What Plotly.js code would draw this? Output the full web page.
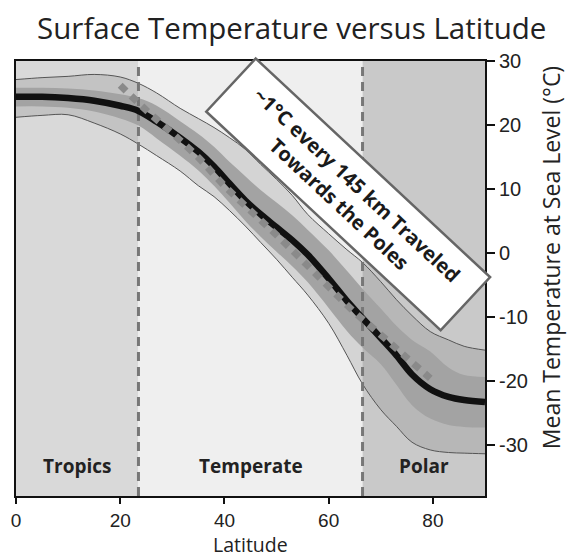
<!DOCTYPE html>
<html><head><meta charset="utf-8">
<script src="https://cdn.plot.ly/plotly-3.0.1.min.js"></script>
<style>html,body{margin:0;padding:0;background:#fff;} #chart{width:572px;height:557px;}</style>
</head><body><div id="chart"></div>
<script>
// ---- data ----
const latitudes = [0, 5, 10, 15, 20, 23.5, 27, 31.5, 35, 38, 41, 44, 47, 50, 53, 56, 60, 63.5, 66.5, 70, 73, 76, 79.5, 83, 86, 90];
const meanTemp   = [24.4, 24.4, 24.2, 23.8, 23.0, 22.2, 20.5, 18.0, 15.8, 13.5, 10.8, 8.2, 6.0, 4.0, 2.0, -0.3, -4.0, -7.5, -10.2, -13.3, -16.0, -19.0, -21.3, -22.5, -23.0, -23.3];
const upperOuter = [27.1, 27.4, 27.6, 27.9, 27.5, 26.5, 25.0, 22.6, 21.0, 19.6, 18.0, 16.2, 13.8, 11.5, 9.0, 6.0, 3.0, 0.5, -1.5, -4.5, -7.3, -9.8, -12.3, -13.6, -14.6, -15.2];
const lowerOuter = [21.2, 21.5, 21.6, 20.3, 18.6, 17.0, 15.2, 12.8, 10.5, 8.8, 6.6, 4.2, 1.6, -1.0, -3.8, -6.6, -11.0, -16.0, -20.5, -24.5, -27.1, -29.6, -30.8, -31.2, -31.3, -31.4];
const upperInner = [25.8, 25.8, 25.7, 25.4, 24.8, 24.2, 23.0, 20.6, 18.6, 16.6, 14.2, 12.0, 9.8, 7.9, 5.9, 3.6, 0.4, -2.8, -5.6, -8.7, -11.4, -13.6, -15.4, -17.9, -19.1, -19.4];
const lowerInner = [22.9, 22.9, 22.7, 22.1, 21.0, 19.9, 17.9, 15.2, 12.9, 10.5, 7.8, 5.0, 2.5, 0.2, -2.1, -4.6, -8.6, -12.2, -14.8, -17.4, -20.6, -23.8, -25.9, -26.9, -27.2, -27.3];

const trendLat  = [20, 25, 30, 35, 40, 45, 50, 55, 60, 65, 70, 75, 79.5];
const trendTemp = [26.2, 22.3, 18.7, 14.9, 10.5, 6.6, 2.8, -1.2, -5.3, -9.3, -12.8, -16.4, -19.6];

const zoneBounds = [0, 23.5, 66.5, 90];
const zoneNames  = ['Tropics', 'Temperate', 'Polar'];
const xTickVals  = [0, 20, 40, 60, 80];
const yTickVals  = [30, 20, 10, 0, -10, -20, -30];
const yTickText  = ['30', '20', '10', '0', '-10', '-20', '-30'];
const yRange = [-38, 30];

const titleText = 'Surface Temperature versus Latitude';
const xTitle = 'Latitude';
const yTitle = 'Mean Temperature at Sea Level (°C)';
const boxText = '~1°C every 145 km Traveled<br>Towards the Poles';

// ---- styles ----
const titleFont = 'Open Sans, Noto Sans, sans-serif';
const tickFont = 'Liberation Sans, Arial, sans-serif';
const zoneFills = ['#d9d9d9', '#efefef', '#c9c9c9'];

const traces = [
  {x: latitudes, y: lowerOuter, mode: 'lines', line: {color: '#555', width: 1, shape: 'spline'}, hoverinfo: 'skip', showlegend: false},
  {x: latitudes, y: upperOuter, mode: 'lines', fill: 'tonexty', fillcolor: 'rgba(120,120,120,0.22)', line: {color: '#555', width: 1, shape: 'spline'}, hoverinfo: 'skip', showlegend: false},
  {x: latitudes, y: lowerInner, mode: 'lines', line: {color: 'rgba(0,0,0,0)', width: 0, shape: 'spline'}, hoverinfo: 'skip', showlegend: false},
  {x: latitudes, y: upperInner, mode: 'lines', fill: 'tonexty', fillcolor: '#a3a3a3', line: {color: 'rgba(0,0,0,0)', width: 0, shape: 'spline'}, hoverinfo: 'skip', showlegend: false}
];
zoneBounds.slice(1, -1).forEach(b => {
  traces.push({x: [b, b], y: yRange, mode: 'lines', line: {color: '#777', width: 3, dash: '9px,6px'}, hoverinfo: 'skip', showlegend: false});
});
traces.push({x: latitudes, y: meanTemp, mode: 'lines', line: {color: '#111', width: 6.5, shape: 'spline'}, hoverinfo: 'skip', showlegend: false});
traces.push({x: trendLat, y: trendTemp, mode: 'lines', line: {color: '#8a8a8a', width: 7, dash: '8px,7px', shape: 'spline'}, hoverinfo: 'skip', showlegend: false});

const shapes = zoneNames.map((n, i) => ({
  type: 'rect', xref: 'x', yref: 'paper', x0: zoneBounds[i], x1: zoneBounds[i + 1], y0: 0, y1: 1,
  fillcolor: zoneFills[i], line: {width: 0}, layer: 'below'
}));

const annotations = zoneNames.map((n, i) => ({
  text: '<b>' + n + '</b>', x: (zoneBounds[i] + zoneBounds[i + 1]) / 2, y: -33.3, xref: 'x', yref: 'y',
  showarrow: false, xanchor: 'center', yanchor: 'middle', font: {family: titleFont, size: 19, color: '#222'}
}));
annotations.push({
  text: '<b>' + boxText + '</b>', x: 63.8, y: 9.2, xref: 'x', yref: 'y', showarrow: false,
  xanchor: 'center', yanchor: 'middle', textangle: 43, width: 318, height: 70, align: 'center', valign: 'middle',
  bgcolor: '#ffffff', bordercolor: '#666', borderwidth: 2.5, borderpad: 0,
  font: {family: titleFont, size: 20, color: '#1a1a1a'}
});
annotations.push({
  text: yTitle, xref: 'paper', yref: 'paper', x: 1.141, y: 0.547, xanchor: 'center', yanchor: 'middle',
  textangle: -90, showarrow: false, font: {family: titleFont, size: 23, color: '#222'}
});
annotations.push({
  text: xTitle, xref: 'paper', yref: 'paper', x: 0.5, y: -0.1125, xanchor: 'center', yanchor: 'middle',
  showarrow: false, font: {family: titleFont, size: 19.5, color: '#222'}
});

const layout = {
  width: 572, height: 557,
  margin: {l: 16, r: 87, t: 61, b: 61, pad: 0},
  paper_bgcolor: '#ffffff', plot_bgcolor: '#ffffff',
  title: {text: titleText, font: {family: titleFont, size: 29.5, color: '#222'}, x: 0.51, xanchor: 'center', xref: 'container', y: 0.948, yanchor: 'middle', yref: 'container'},
  xaxis: {range: [0, 90], tickvals: xTickVals, showgrid: false, zeroline: false, showline: true, linecolor: '#111', linewidth: 2, mirror: true,
          ticks: 'outside', ticklen: 6, tickwidth: 2, tickcolor: '#111', tickfont: {family: tickFont, size: 19, color: '#222'}},
  yaxis: {range: yRange, side: 'right', tickvals: yTickVals, ticktext: yTickText, showgrid: false, zeroline: false, showline: true, linecolor: '#111', linewidth: 2, mirror: true,
          ticks: 'outside', ticklen: 8, tickwidth: 2, tickcolor: '#111', tickfont: {family: tickFont, size: 20, color: '#222'}},
  shapes: shapes,
  annotations: annotations,
  showlegend: false
};

Plotly.newPlot('chart', traces, layout, {displayModeBar: false, staticPlot: true});
</script></body></html>
